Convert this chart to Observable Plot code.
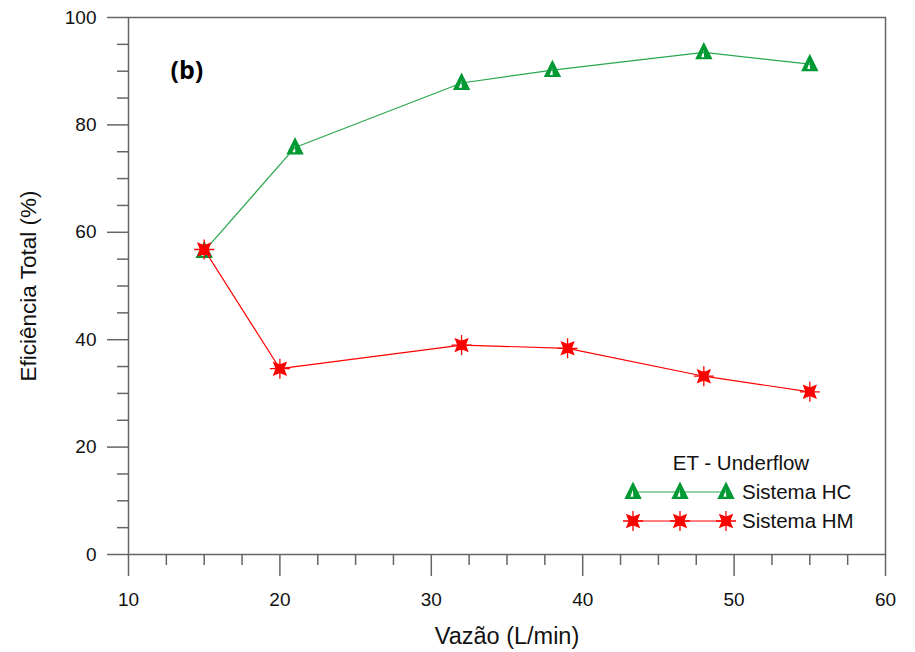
<!DOCTYPE html>
<html><head><meta charset="utf-8">
<script src="https://cdn.jsdelivr.net/npm/d3@7"></script>
<script src="https://cdn.jsdelivr.net/npm/@observablehq/plot@0.6"></script>
<style>body{margin:0;background:#fff}</style>
</head><body><div id="chart"></div>
<script>
// ---- data ----
const vazaoHC = [15, 21, 32, 38, 48, 55];
const eficienciaHC = [56.5, 75.8, 87.8, 90.2, 93.5, 91.3];
const vazaoHM = [15, 20, 32, 39, 48, 55];
const eficienciaHM = [56.8, 34.6, 39.0, 38.4, 33.2, 30.3];
const seriesNames = ["Sistema HC", "Sistema HM"];
const legendTitle = "ET - Underflow";
const panelLabel = "(b)";
const xLabel = "Vazão (L/min)";
const yLabel = "Eficiência Total (%)";
const xTicks = [10, 20, 30, 40, 50, 60];
const yTicks = [0, 20, 40, 60, 80, 100];
const xMinorTicks = [12.5, 15, 17.5, 22.5, 25, 27.5, 32.5, 35, 37.5, 42.5, 45, 47.5, 52.5, 55, 57.5];
const yMinorTicks = [5, 10, 15, 25, 30, 35, 45, 50, 55, 65, 70, 75, 85, 90, 95];

const hc = vazaoHC.map((x, i) => ({x, y: eficienciaHC[i]}));
const hm = vazaoHM.map((x, i) => ({x, y: eficienciaHM[i]}));

const GREEN = "#009933", GREEN_LINE = "#2aa74e", RED = "#ff0000", AXIS = "#666666";
const FONT = "'Liberation Sans', Arial, sans-serif";

// custom symbols
const triangleSym = {draw(ctx, size) {
  const r = Math.sqrt(size / Math.PI);
  ctx.moveTo(0, -1.2 * r); ctx.lineTo(r, 0.8 * r); ctx.lineTo(-r, 0.8 * r); ctx.closePath();
  ctx.moveTo(-0.02 * r, -0.25 * r); ctx.lineTo(-0.3 * r, 0.55 * r); ctx.lineTo(0.04 * r, 0.55 * r); ctx.closePath();
}};
const starSym = {draw(ctx, size) {
  const r = Math.sqrt(size / Math.PI);
  for (let i = 0; i < 8; i++) {
    const a = i * Math.PI / 4 - Math.PI / 4;
    const rad = i % 2 === 0 ? 0.98 * r : 0.42 * r;
    const x = rad * Math.cos(a), y = rad * Math.sin(a);
    if (i) ctx.lineTo(x, y); else ctx.moveTo(x, y);
  }
  ctx.closePath();
  ctx.moveTo(-1.15 * r, 0); ctx.lineTo(1.15 * r, 0);
  ctx.moveTo(0, -1.15 * r); ctx.lineTo(0, 1.15 * r);
}};
const R = 8.7;

const plot = Plot.plot({
  width: 915, height: 652,
  marginLeft: 128, marginRight: 30, marginTop: 17, marginBottom: 98,
  style: {fontFamily: FONT, fontSize: "19px", color: "#111", background: "#fff"},
  x: {domain: [10, 60]},
  y: {domain: [0, 100]},
  marks: [
    Plot.axisY(yMinorTicks, {tickSize: 11, tickFormat: () => "", label: null, stroke: AXIS, strokeWidth: 1.5}),
    Plot.axisY(yTicks, {tickSize: 21, tickPadding: 11, stroke: AXIS, strokeWidth: 1.5, label: null}),
    Plot.axisY({ticks: [], tickSize: 0, label: yLabel, labelAnchor: "center", labelArrow: "none",
      labelOffset: 108, fontSize: 22.5}),
    Plot.axisX(xMinorTicks, {tickSize: 11, tickFormat: () => "", label: null, stroke: AXIS, strokeWidth: 1.5}),
    Plot.axisX(xTicks, {tickSize: 22, tickPadding: 16, stroke: AXIS, strokeWidth: 1.5, label: null}),
    Plot.axisX({ticks: [], tickSize: 0, label: xLabel, labelAnchor: "center", labelArrow: "none",
      labelOffset: 89, fontSize: 23.5}),
    Plot.frame({stroke: AXIS, strokeWidth: 1.5}),
    Plot.line(hc, {x: "x", y: "y", stroke: GREEN_LINE, strokeWidth: 1.2}),
    Plot.dot(hc, {x: "x", y: "y", symbol: triangleSym, r: R, fill: GREEN, stroke: "none"}),
    Plot.line(hm, {x: "x", y: "y", stroke: RED, strokeWidth: 1.2}),
    Plot.dot(hm, {x: "x", y: "y", symbol: starSym, r: R, fill: RED, stroke: RED, strokeWidth: 1.3}),
    Plot.text([panelLabel], {frameAnchor: "top-left", dx: 42, dy: 44, textAnchor: "start", fontWeight: "bold",
      fontSize: 25, fontFamily: "'Open Sans', sans-serif", fill: "#000"})
  ]
});

// legend inside the plot area
const svg = d3.select(plot);
const lg = svg.append("g").attr("font-family", FONT).attr("font-size", 20.5).attr("fill", "#111");
lg.append("text").attr("x", 741).attr("y", 463).attr("dy", "0.35em").attr("text-anchor", "middle").text(legendTitle);
const legendRows = [
  {name: seriesNames[0], color: GREEN, line: GREEN_LINE, sym: triangleSym, strokeSym: "none"},
  {name: seriesNames[1], color: RED, line: RED, sym: starSym, strokeSym: RED}
];
legendRows.forEach((row, i) => {
  const yy = 492 + i * 29;
  lg.append("line").attr("x1", 633).attr("x2", 726).attr("y1", yy).attr("y2", yy)
    .attr("stroke", row.line).attr("stroke-width", 1.2);
  [633, 680, 726].forEach(xx => {
    lg.append("path").attr("d", d3.symbol(row.sym, R * R * Math.PI)())
      .attr("transform", `translate(${xx},${yy})`)
      .attr("fill", row.color).attr("stroke", row.strokeSym).attr("stroke-width", 1.3);
  });
  lg.append("text").attr("x", 742).attr("y", yy).attr("dy", "0.35em").attr("text-anchor", "start").text(row.name);
});

document.getElementById("chart").append(plot);
</script>
</body></html>
